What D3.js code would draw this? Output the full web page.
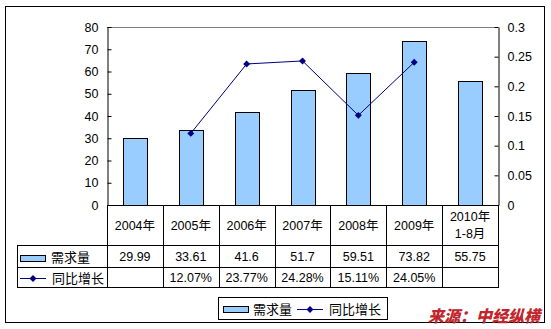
<!DOCTYPE html>
<html>
<head>
<meta charset="utf-8">
<script src="https://cdn.jsdelivr.net/npm/d3@7"></script>
<style>
  html, body { margin: 0; padding: 0; background: #fff; }
  svg { display: block; }
  text { font-family: "Liberation Sans", Arial, "Noto Sans CJK SC", sans-serif; }
  .cjk { font-family: "Liberation Sans", "Noto Sans CJK SC", sans-serif; }
</style>
</head>
<body>
<svg id="chart" width="551" height="329"></svg>
<script>
// Categories (years) and the two series
const categories = ["2004年", "2005年", "2006年", "2007年", "2008年", "2009年", "2010年\n1-8月"];
const demand = [29.99, 33.61, 41.6, 51.7, 59.51, 73.82, 55.75];          // 需求量
const growth = [null, 0.1207, 0.2377, 0.2428, 0.1511, 0.2405, null];     // 同比增长
const leftTicks = [0, 10, 20, 30, 40, 50, 60, 70, 80];
const rightTicks = [0, 0.05, 0.1, 0.15, 0.2, 0.25, 0.3];
const seriesNames = ["需求量", "同比增长"];
const sourceText = "来源：中经纵横";

const barFill = "#99CCFF";
const lineColor = "#000080";

const svg = d3.select("#chart");

// layout
const plot = { left: 107, right: 498, top: 27, bottom: 205 };
const tableLeft = 17;
const rowCat = 245, rowDemand = 267, rowGrowth = 287;

// outer frame
svg.append("rect")
  .attr("x", 5.5).attr("y", 6.5).attr("width", 539).attr("height", 316)
  .attr("fill", "#fff").attr("stroke", "#000").attr("stroke-width", 1);

const x = d3.scaleBand().domain(categories).range([plot.left, plot.right]).paddingInner(0).paddingOuter(0);
const y = d3.scaleLinear().domain([0, 80]).range([plot.bottom, plot.top]);
const y2 = d3.scaleLinear().domain([0, 0.3]).range([plot.bottom, plot.top]);

// plot area top border
svg.append("line")
  .attr("x1", plot.left).attr("x2", plot.right)
  .attr("y1", plot.top + 0.5).attr("y2", plot.top + 0.5)
  .attr("stroke", "#808080");

// bars
const barW = 24;
svg.append("g").selectAll("rect").data(demand).join("rect")
  .attr("x", (d, i) => Math.round(x(categories[i]) + x.bandwidth() / 2 - barW / 2) + 0.5)
  .attr("y", d => Math.round(y(d)) + 0.5)
  .attr("width", barW)
  .attr("height", d => plot.bottom - Math.round(y(d)))
  .attr("fill", barFill)
  .attr("stroke", "#000")
  .attr("stroke-width", 1);

// left axis (ticks inside)
const leftAxis = d3.axisLeft(y).tickValues(leftTicks).tickSizeInner(-4).tickSizeOuter(0).tickPadding(9);
const gl = svg.append("g").attr("transform", `translate(${plot.left + 0.5},0)`).call(leftAxis);
gl.select(".domain").attr("stroke", "#000");
gl.selectAll(".tick line").attr("stroke", "#000");
gl.selectAll(".tick text").attr("font-size", 12.5).attr("fill", "#000")
  .attr("font-family", "Liberation Sans, Arial, sans-serif");

// right axis (ticks inside)
const rightAxis = d3.axisRight(y2).tickValues(rightTicks).tickSizeInner(-4).tickSizeOuter(0).tickPadding(9)
  .tickFormat(d => d3.format("~g")(d));
const gr = svg.append("g").attr("transform", `translate(${plot.right + 0.5},0)`).call(rightAxis);
gr.select(".domain").attr("stroke", "#000");
gr.selectAll(".tick line").attr("stroke", "#000");
gr.selectAll(".tick text").attr("font-size", 12.5).attr("fill", "#000")
  .attr("font-family", "Liberation Sans, Arial, sans-serif");

// square diamond marker
const diamondShape = {
  draw(ctx, size) {
    const r = Math.sqrt(size / 2);
    ctx.moveTo(0, -r); ctx.lineTo(r, 0); ctx.lineTo(0, r); ctx.lineTo(-r, 0); ctx.closePath();
  }
};
const diamond = d3.symbol().type(diamondShape).size(24);

// growth line with diamond markers
const pts = growth.map((g, i) => ({ g, c: categories[i] })).filter(p => p.g !== null);
const cx = c => x(c) + x.bandwidth() / 2;
svg.append("path")
  .datum(pts)
  .attr("fill", "none")
  .attr("stroke", lineColor)
  .attr("stroke-width", 1)
  .attr("d", d3.line().x(p => cx(p.c)).y(p => y2(p.g)));
svg.append("g").selectAll("path").data(pts).join("path")
  .attr("transform", p => `translate(${cx(p.c)},${y2(p.g)})`)
  .attr("d", diamond)
  .attr("fill", lineColor);

// data table
const grid = svg.append("g").attr("stroke", "#000").attr("stroke-width", 1);
grid.append("line").attr("x1", plot.left).attr("x2", plot.right + 0.5).attr("y1", plot.bottom + 0.5).attr("y2", plot.bottom + 0.5);
[rowCat, rowDemand, rowGrowth].forEach(yy => {
  grid.append("line").attr("x1", tableLeft).attr("x2", plot.right + 0.5).attr("y1", yy + 0.5).attr("y2", yy + 0.5);
});
grid.append("line").attr("x1", tableLeft + 0.5).attr("x2", tableLeft + 0.5).attr("y1", rowCat).attr("y2", rowGrowth + 1);
categories.forEach((c, i) => {
  const xx = Math.round(x(c)) + 0.5;
  grid.append("line").attr("x1", xx).attr("x2", xx).attr("y1", plot.bottom).attr("y2", rowGrowth + 1);
});
grid.append("line").attr("x1", plot.right + 0.5).attr("x2", plot.right + 0.5).attr("y1", plot.bottom).attr("y2", rowGrowth + 1);

// category labels
categories.forEach(c => {
  const lines = c.split("\n");
  const t = svg.append("text")
    .attr("class", "cjk")
    .attr("x", cx(c))
    .attr("text-anchor", "middle")
    .attr("font-size", 12.5)
    .attr("fill", "#000");
  const mid = (plot.bottom + rowCat) / 2;
  const lh = 17;
  lines.forEach((ln, k) => {
    t.append("tspan")
      .attr("x", cx(c))
      .attr("y", mid + 4.5 + (k - (lines.length - 1) / 2) * lh)
      .text(ln);
  });
});

// demand row values
demand.forEach((d, i) => {
  svg.append("text")
    .attr("x", cx(categories[i]))
    .attr("y", (rowCat + rowDemand) / 2 + 5)
    .attr("text-anchor", "middle")
    .attr("font-size", 12.5)
    .attr("fill", "#000")
    .text(d);
});
// growth row values
growth.forEach((g, i) => {
  if (g === null) return;
  svg.append("text")
    .attr("x", cx(categories[i]))
    .attr("y", (rowDemand + rowGrowth) / 2 + 5)
    .attr("text-anchor", "middle")
    .attr("font-size", 12.5)
    .attr("fill", "#000")
    .text(d3.format(".2%")(g));
});

// legend keys
function barKey(g, x0, yMid) {
  g.append("rect").attr("x", x0 + 0.5).attr("y", yMid - 3.5).attr("width", 25).attr("height", 6)
    .attr("fill", barFill).attr("stroke", "#000");
}
function lineKey(g, x0, yMid) {
  g.append("line").attr("x1", x0).attr("x2", x0 + 26).attr("y1", yMid + 0.5).attr("y2", yMid + 0.5)
    .attr("stroke", lineColor);
  g.append("path").attr("transform", `translate(${x0 + 13},${yMid + 0.5})`).attr("d", diamond).attr("fill", lineColor);
}
const tk = svg.append("g");
barKey(tk, 20, (rowCat + rowDemand) / 2 + 3);
tk.append("text").attr("class", "cjk").attr("x", 51).attr("y", (rowCat + rowDemand) / 2 + 6)
  .attr("font-size", 13).text(seriesNames[0]);
lineKey(tk, 20, (rowDemand + rowGrowth) / 2 + 1);
tk.append("text").attr("class", "cjk").attr("x", 52).attr("y", (rowDemand + rowGrowth) / 2 + 6)
  .attr("font-size", 13).text(seriesNames[1]);

// bottom legend
const lg = svg.append("g");
lg.append("rect").attr("x", 218.5).attr("y", 297.5).attr("width", 169).attr("height", 22)
  .attr("fill", "#fff").attr("stroke", "#000");
barKey(lg, 223, 310);
lg.append("text").attr("class", "cjk").attr("x", 253).attr("y", 314).attr("font-size", 13).text(seriesNames[0]);
lineKey(lg, 297, 309);
lg.append("text").attr("class", "cjk").attr("x", 329).attr("y", 314).attr("font-size", 13).text(seriesNames[1]);

// source note
svg.append("text")
  .attr("x", 428).attr("y", 322)
  .attr("font-family", "Noto Sans CJK SC, sans-serif")
  .attr("font-size", 16)
  .attr("font-weight", 900)
  .attr("font-style", "italic")
  .attr("fill", "#C0262C")
  .text(sourceText);
</script>
</body>
</html>
